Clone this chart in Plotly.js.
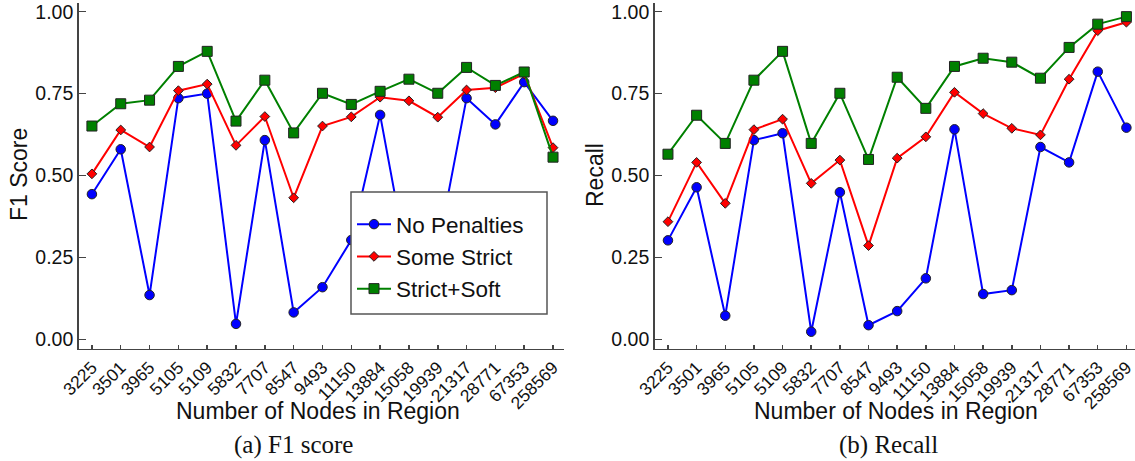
<!DOCTYPE html>
<html>
<head>
<meta charset="utf-8">
<script src="https://cdn.plot.ly/plotly-3.0.1.min.js"></script>
<style>html,body{margin:0;padding:0;background:#fff;}#chart{width:1135px;height:461px;}</style>
</head>
<body>
<div id="chart"></div>
<script>
const nodes = ["3225","3501","3965","5105","5109","5832","7707","8547","9493","11150","13884","15058","19939","21317","28771","67353","258569"];
const seriesNames = ["No Penalties","Some Strict","Strict+Soft"];

const f1NoPen   = [0.443,0.580,0.135,0.736,0.750,0.047,0.608,0.082,0.159,0.303,0.685,0.210,0.276,0.736,0.656,0.785,0.667];
const f1Strict  = [0.505,0.639,0.587,0.759,0.779,0.592,0.680,0.432,0.651,0.679,0.739,0.728,0.678,0.761,0.768,0.810,0.585];
const f1Soft    = [0.651,0.719,0.730,0.833,0.879,0.666,0.791,0.630,0.751,0.717,0.757,0.794,0.751,0.830,0.775,0.816,0.556];

const recNoPen  = [0.302,0.464,0.072,0.608,0.629,0.023,0.449,0.043,0.086,0.186,0.641,0.138,0.150,0.587,0.540,0.817,0.646];
const recStrict = [0.359,0.540,0.415,0.640,0.672,0.476,0.547,0.286,0.553,0.618,0.754,0.689,0.644,0.624,0.794,0.942,0.968];
const recSoft   = [0.565,0.684,0.598,0.791,0.879,0.598,0.751,0.549,0.800,0.705,0.833,0.858,0.846,0.797,0.891,0.962,0.985];

const yTickVals = [0, 0.25, 0.5, 0.75, 1.0];
const yTickText = ["0.00","0.25","0.50","0.75","1.00"];

const styles = [
  {color:"#0000ff", symbol:"circle", size:9.5},
  {color:"#ff0000", symbol:"diamond", size:7.5},
  {color:"#008000", symbol:"square", size:10}
];

function mk(y, i, xa, ya, show){
  return {
    x: nodes, y: y, type:"scatter", mode:"lines+markers", name: seriesNames[i],
    xaxis: xa, yaxis: ya, showlegend: show,
    line:{color:styles[i].color, width:2},
    marker:{color:styles[i].color, symbol:styles[i].symbol, size:styles[i].size, line:{color:"#222", width:1}}
  };
}

const data = [
  mk(f1NoPen,0,"x","y",true), mk(f1Strict,1,"x","y",true), mk(f1Soft,2,"x","y",true),
  mk(recNoPen,0,"x2","y2",false), mk(recStrict,1,"x2","y2",false), mk(recSoft,2,"x2","y2",false)
];

const font = "Liberation Sans, Arial, sans-serif";
function xax(domain, range, anchor){
  return {domain:domain, anchor:anchor, type:"category", categoryorder:"array", categoryarray:nodes,
    range:range, showline:true, linecolor:"#444", linewidth:1.5, ticks:"inside", ticklen:4,
    tickcolor:"#444", tickwidth:1.5, tickangle:-45, tickfont:{family:font, size:17.5, color:"#111"},
    showgrid:false, zeroline:false, mirror:false};
}
function yax(anchor){
  return {domain:[0.2430,0.9935], anchor:anchor, range:[-0.0296,1.0266], tickvals:yTickVals, ticktext:yTickText,
    showline:true, linecolor:"#444", linewidth:1.5, ticks:"inside", ticklen:7, tickcolor:"#444", tickwidth:1.5,
    tickfont:{family:font, size:19.5, color:"#111"}, showgrid:false, zeroline:false, mirror:false};
}

const H = 461, W = 1135;
function ann(text, px, py, size, fam, angle){
  return {text:text, xref:"paper", yref:"paper", x:px/W, y:1-py/H, xanchor:"center", yanchor:"middle",
    showarrow:false, textangle:angle||0, font:{family:fam, size:size, color:"#111"}};
}

const layout = {
  width:W, height:H, margin:{l:0,r:0,t:0,b:0}, paper_bgcolor:"#fff", plot_bgcolor:"#fff",
  xaxis: xax([0.0693,0.4969],[-0.46,16.38],"y"),
  yaxis: yax("x"),
  xaxis2: xax([0.5768,1.0],[-0.464,16.3],"y2"),
  yaxis2: yax("x2"),
  showlegend:true,
  legend:{x:352/W, y:1-203/H, xanchor:"left", yanchor:"top", bgcolor:"rgba(0,0,0,0)", borderwidth:0,
    tracegroupgap:0, itemwidth:34, font:{family:font, size:22.5, color:"#111"}},
  shapes:[
    {type:"rect", xref:"paper", yref:"paper", x0:351/W, x1:547/W, y0:1-314/H, y1:1-192/H,
     fillcolor:"#fff", line:{color:"#555", width:1.5}, layer:"above"}
  ],
  annotations:[
    ann("F1 Score", 19, 175, 23, font, -90),
    ann("Recall", 595, 175, 23, font, -90),
    ann("Number of Nodes in Region", 318, 411, 23, font),
    ann("Number of Nodes in Region", 896, 411, 23, font),
    ann("(a) F1 score", 293, 445, 25, "Liberation Serif, serif"),
    ann("(b) Recall", 888, 445, 25, "Liberation Serif, serif")
  ]
};

Plotly.newPlot("chart", data, layout, {displayModeBar:false, staticPlot:true});
</script>
</body>
</html>
